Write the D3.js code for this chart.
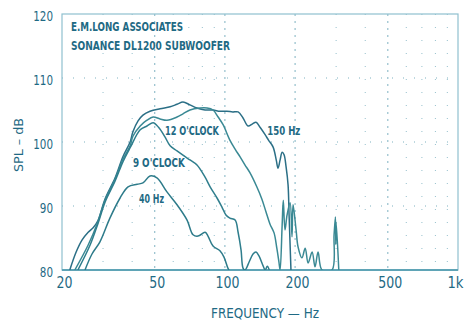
<!DOCTYPE html>
<html>
<head>
<meta charset="utf-8">
<script src="https://cdn.jsdelivr.net/npm/d3@7"></script>
<style>
  body { margin: 0; background: #fff; }
  svg { display: block; }
  text { font-family: "DejaVu Sans Condensed", "Liberation Sans Narrow", "DejaVu Sans", sans-serif; fill: #1f6a84; }
</style>
</head>
<body>
<div id="chart"></div>
<script>
// SVG area
var svgWidth = 464;
var svgHeight = 320;

var margin = { top: 14, right: 6, bottom: 50, left: 62 };
var chartWidth = svgWidth - margin.left - margin.right;
var chartHeight = svgHeight - margin.top - margin.bottom;

// tick values / labels
var xTicks = [20, 50, 100, 200, 500, 1000];
var xTickLabels = ["20", "50", "100", "200", "500", "1k"];
var yTicks = [80, 90, 100, 110, 120];
var xGridMajor = [50, 100, 200, 500];
var xGridMinor = [30, 40, 60, 70, 80, 90, 300, 400, 600, 700, 800, 900];
var yGrid = [90, 100, 110];

// curves: [Hz, dB]
var curve150 = [[21.6,80],[23.0,82.8],[24.4,84.7],[25.9,85.9],[27.2,86.6],[28.5,87.7],[30.6,91.1],
  [33.8,94.4],[36.5,97.7],[39.2,100],[40.3,101.6],[42.4,103.3],[44.5,104.2],[47.7,104.8],[52.7,105.2],
  [58.2,105.5],[62.3,105.9],[66.1,106.25],[70.8,105.8],[75.9,105.3],[82.2,105],[88.9,105],[95.2,104.8],
  [102,104.8],[108,104.7],[113.9,104.7],[119.6,103.75],[125.7,102.5],[131,102.8],[136,103.1],[141.5,102.3],
  [149,101.1],[153.8,100.3],[161,99.2],[166,97.2],[169,95.9],[172.5,97.2],[176,98.4],[179.4,98],
  [183,96.1],[186.6,93.3],[188.5,88.6],[190.4,83.9],[192,80]];

var curve12 = [[22.7,80],[25.9,83.9],[28.5,87.5],[30.6,90.9],[33.8,94.2],[36.5,97.3],[39.2,99.4],
  [40.3,100.9],[43.3,102.5],[46.3,103.4],[49.2,103.9],[52.7,103.6],[56.4,103.4],[62.3,103.9],[66.1,104.4],
  [70.8,105],[78.2,105.3],[83.8,105.3],[88.9,105],[93.5,103.9],[98.2,102.7],[105,100.3],[110.6,98.9],
  [116,97.7],[122,96.4],[128,95.2],[137,93],[144,91.1],[150,89.1],[156,87.2],[162.5,85.8],[167,83.4],
  [170.5,81.25],[172.5,80],[176,87],[178,90.9],[181,86.25],[184.8,88.6],[190.4,90.5],[194,85.2],
  [196,90.2],[202,86.25],[206,83.6],[214,81.9],[221,83.4],[227.5,81.1],[236.6,82.8],[243.6,80.5],
  [251,82.8],[261,80],[288,80],[294,85.5],[298,88.3],[299,84],[300,87.5],[308,80]];

var curve9 = [[23.4,80],[26.4,83.9],[28.5,87.2],[30.6,90.6],[33.8,93.9],[36.5,96.9],[39.2,99.1],
  [43.3,101.9],[46.3,102.5],[49.2,103],[51.9,102.3],[55.3,100.8],[58.2,99.4],[62.3,98.6],[67.5,97.7],
  [70.8,97.2],[75.9,96.4],[82.2,94.5],[86.4,93],[92.5,91.25],[97.2,89.8],[101,88.6],[105,88.1],
  [110.6,87.8],[113.9,85.9],[117.3,83.1],[119.6,80.3],[122,80],[127,81.25],[132,82.5],[136,82.8],
  [140,82.2],[146,80.6],[149,80],[152,80.6],[155,80]];

var curve40 = [[25.1,80],[26.9,82.5],[29.1,84.4],[32.1,88.1],[35.5,91.25],[38.4,93],[42.0,93.4],
  [44.5,93.6],[47.7,94.7],[51.1,94.4],[56.4,92.2],[62.3,90.2],[68.8,87.8],[73,85.5],[76.7,85.3],
  [82.2,85.9],[84.6,85.3],[88.9,83.75],[95.2,83],[99.1,82],[103,80.3],[104.2,80]];

var curveNames = ["150 Hz", "12 O'CLOCK", "9 O'CLOCK", "40 Hz"];
var curveData = [curve150, curve12, curve9, curve40];
var curveColors = ["#2b6f86", "#3a8994", "#2f7e8d", "#2d7b8a"];
// label anchors [Hz, dB, width px]
var labelPos = [[152, 101.1, 33], [55.3, 101.1, 54], [40.3, 96.1, 52], [42.8, 90.5, 25]];

var svg = d3.select("#chart")
  .append("svg")
  .attr("width", svgWidth)
  .attr("height", svgHeight);

var chartGroup = svg.append("g")
  .attr("transform", `translate(${margin.left}, ${margin.top})`);

var xLogScale = d3.scaleLog().domain([20, 1000]).range([0, chartWidth]);
var yLinearScale = d3.scaleLinear().domain([80, 120]).range([chartHeight, 0]);

svg.append("defs").append("clipPath").attr("id", "clip")
  .append("rect").attr("width", chartWidth).attr("height", chartHeight);

// grid
chartGroup.selectAll(".hgrid").data(yGrid).enter().append("line")
  .attr("x1", 0).attr("x2", chartWidth)
  .attr("y1", d => yLinearScale(d)).attr("y2", d => yLinearScale(d))
  .attr("stroke", "#5f9fb2").attr("stroke-width", 1)
  .attr("stroke-dasharray", "1,10").attr("opacity", 0.8);

chartGroup.selectAll(".vgrid").data(xGridMinor).enter().append("line")
  .attr("x1", d => xLogScale(d)).attr("x2", d => xLogScale(d))
  .attr("y1", 0).attr("y2", chartHeight)
  .attr("stroke", "#6aa6b8").attr("stroke-width", 1)
  .attr("stroke-dasharray", "1,12").attr("opacity", 0.7);

chartGroup.selectAll(".vmajor").data(xGridMajor).enter().append("line")
  .attr("x1", d => xLogScale(d)).attr("x2", d => xLogScale(d))
  .attr("y1", 0).attr("y2", chartHeight)
  .attr("stroke", "#7fb2c2").attr("stroke-width", 1)
  .attr("stroke-dasharray", "2,5");

// frame
chartGroup.append("rect")
  .attr("width", chartWidth).attr("height", chartHeight)
  .attr("fill", "none").attr("stroke", "#8fc0cf").attr("stroke-width", 1.2);
chartGroup.append("line")
  .attr("x1", 0).attr("x2", chartWidth)
  .attr("y1", chartHeight).attr("y2", chartHeight)
  .attr("stroke", "#5fa4b6").attr("stroke-width", 2);

// curves
var drawLine = d3.line()
  .x(d => xLogScale(d[0]))
  .y(d => yLinearScale(d[1]))
  .curve(d3.curveCatmullRom.alpha(0.5));

chartGroup.selectAll(".curve").data(curveData).enter().append("path")
  .attr("d", d => drawLine(d))
  .attr("clip-path", "url(#clip)")
  .attr("fill", "none")
  .attr("stroke", (d, i) => curveColors[i])
  .attr("stroke-width", 1.5);

chartGroup.selectAll(".clabel").data(curveNames).enter().append("text")
  .attr("x", (d, i) => xLogScale(labelPos[i][0]))
  .attr("y", (d, i) => yLinearScale(labelPos[i][1]))
  .attr("textLength", (d, i) => labelPos[i][2])
  .attr("lengthAdjust", "spacingAndGlyphs")
  .style("font-size", "13px")
  .style("font-weight", "bold")
  .text(d => d);

// axes
var leftAxis = d3.axisLeft(yLinearScale).tickValues(yTicks).tickSize(0).tickPadding(9);
var bottomAxis = d3.axisBottom(xLogScale).tickValues(xTicks)
  .tickFormat((d, i) => xTickLabels[i]).tickSize(0).tickPadding(7);

var yAxisG = chartGroup.append("g").call(leftAxis);
yAxisG.select(".domain").remove();
yAxisG.selectAll("text")
  .attr("dy", "0.45em")
  .attr("textLength", d => String(d).length * 6.6)
  .attr("lengthAdjust", "spacingAndGlyphs")
  .style("font-size", "14px").style("fill", "#1f6a84");

var xAxisG = chartGroup.append("g")
  .attr("transform", `translate(0, ${chartHeight})`)
  .call(bottomAxis);
xAxisG.select(".domain").remove();
xAxisG.selectAll("text")
  .attr("dx", (d, i) => i === xTicks.length - 1 ? -3 : 2)
  .attr("textLength", (d, i) => xTickLabels[i].length * 8)
  .attr("lengthAdjust", "spacingAndGlyphs")
  .style("font-size", "15px").style("fill", "#1f6a84");

// titles
chartGroup.append("text")
  .attr("x", 9).attr("y", 17)
  .attr("textLength", 112).attr("lengthAdjust", "spacingAndGlyphs")
  .style("font-size", "13px").style("font-weight", "bold")
  .text("E.M.LONG ASSOCIATES");
chartGroup.append("text")
  .attr("x", 9).attr("y", 36)
  .attr("textLength", 159).attr("lengthAdjust", "spacingAndGlyphs")
  .style("font-size", "13px").style("font-weight", "bold")
  .text("SONANCE  DL1200 SUBWOOFER");

svg.append("text")
  .attr("transform", "translate(23, 145) rotate(-90)")
  .attr("text-anchor", "middle")
  .attr("textLength", 54).attr("lengthAdjust", "spacingAndGlyphs")
  .style("font-size", "13px")
  .text("SPL – dB");

svg.append("text")
  .attr("x", 211).attr("y", 318)
  .attr("textLength", 108).attr("lengthAdjust", "spacingAndGlyphs")
  .style("font-size", "14px")
  .text("FREQUENCY — Hz");
</script>
</body>
</html>
